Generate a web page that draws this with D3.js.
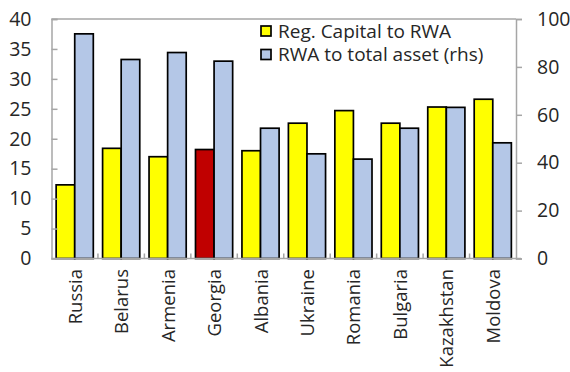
<!DOCTYPE html>
<html>
<head>
<meta charset="utf-8">
<script src="https://cdn.jsdelivr.net/npm/d3@7"></script>
<style>
  html, body { margin: 0; padding: 0; background: #fff; }
  svg { display: block; font-family: "Open Sans", sans-serif; }
</style>
</head>
<body>
<svg id="chart" width="570" height="372"></svg>
<script>
// Bank capital metrics by country
const countries = ["Russia", "Belarus", "Armenia", "Georgia", "Albania",
                   "Ukraine", "Romania", "Bulgaria", "Kazakhstan", "Moldova"];
const capitalToRWA = [12.3, 18.4, 17.0, 18.2, 18.0, 22.6, 24.7, 22.6, 25.3, 26.6];
const rwaToAssets = [93.8, 83.1, 86.0, 82.4, 54.4, 43.7, 41.5, 54.4, 63.1, 48.3];
const leftTicks = [0, 5, 10, 15, 20, 25, 30, 35, 40];
const rightTicks = [0, 20, 40, 60, 80, 100];
const seriesNames = ["Reg. Capital to RWA", "RWA to total asset (rhs)"];
const highlight = "Georgia";

const svg = d3.select("#chart");
const plotLeft = 51.5, plotRight = 516, plotTop = 19, plotBottom = 258.5;
const axisColor = "#a6a6a6", textColor = "#262626";
const tickFont = "19.5px", labelFont = "18.5px", legendFont = "19px";

const x = d3.scaleBand().domain(countries).range([plotLeft, plotRight])
  .paddingInner(0.2).paddingOuter(0.1);
const xs = d3.scaleBand().domain([0, 1]).range([0, x.bandwidth()]);
const yL = d3.scaleLinear().domain([0, 40]).range([plotBottom, plotTop]);
const yR = d3.scaleLinear().domain([0, 100]).range([plotBottom, plotTop]);

// plot frame top edge
svg.append("line").attr("x1", plotLeft).attr("x2", plotRight)
  .attr("y1", plotTop).attr("y2", plotTop)
  .attr("stroke", axisColor).attr("stroke-width", 1.5);

const rows = countries.map((c, i) => ({ c, cap: capitalToRWA[i], rwa: rwaToAssets[i] }));

const g = svg.append("g");
g.selectAll("rect.cap").data(rows).join("rect").attr("class", "cap")
  .attr("x", d => x(d.c) + xs(0))
  .attr("width", xs.bandwidth())
  .attr("y", d => yL(d.cap))
  .attr("height", d => yL(0) - yL(d.cap))
  .attr("fill", d => d.c === highlight ? "#c00000" : "#ffff00")
  .attr("stroke", "#000").attr("stroke-width", 1.7);

g.selectAll("rect.rwa").data(rows).join("rect").attr("class", "rwa")
  .attr("x", d => x(d.c) + xs(1))
  .attr("width", xs.bandwidth())
  .attr("y", d => yR(d.rwa))
  .attr("height", d => yR(0) - yR(d.rwa))
  .attr("fill", "#b4c7e7")
  .attr("stroke", "#000").attr("stroke-width", 1.7);

// left axis (ticks inside)
const ax = svg.append("g").attr("transform", `translate(${plotLeft},0)`)
  .call(d3.axisLeft(yL).tickValues(leftTicks).tickSize(-6).tickPadding(20));
// right axis (ticks outside)
const ar = svg.append("g").attr("transform", `translate(${plotRight},0)`)
  .call(d3.axisRight(yR).tickValues(rightTicks).tickSize(6).tickPadding(15));

// bottom axis with category separators
const boundaries = countries.slice(1).map(c => x(c) - x.step() * x.paddingInner() / 2);
const ab = svg.append("g").attr("transform", `translate(0,${plotBottom})`)
  .call(d3.axisBottom(x).tickSize(0).tickPadding(0));
ab.selectAll(".tick text").remove();
ab.selectAll("line.sep").data(boundaries).join("line").attr("class", "sep")
  .attr("x1", d => d).attr("x2", d => d).attr("y1", 0).attr("y2", -5)
  .attr("stroke", axisColor).attr("stroke-width", 1.5);

[ax, ar, ab].forEach(a => {
  a.select(".domain").attr("stroke", axisColor).attr("stroke-width", 1.5);
  a.selectAll(".tick line").attr("stroke", axisColor).attr("stroke-width", 1.5);
  a.selectAll(".tick text").attr("fill", textColor).style("font-size", tickFont)
    .style("font-family", "'Open Sans', sans-serif");
});
ab.select(".domain").attr("d", `M${plotLeft},0H${plotRight + 5}`);

// rotated category labels
svg.append("g").selectAll("text").data(countries).join("text")
  .attr("transform", d => `translate(${x(d) + x.bandwidth() / 2 + 7},269) rotate(-90)`)
  .attr("text-anchor", "end")
  .attr("fill", textColor)
  .style("font-size", labelFont)
  .text(d => d);

// legend
const legend = svg.append("g").attr("transform", "translate(261,25)");
const legendFill = ["#ffff00", "#b4c7e7"];
seriesNames.forEach((name, i) => {
  const row = legend.append("g").attr("transform", `translate(0,${i * 23.5})`);
  row.append("rect").attr("width", 10).attr("height", 10).attr("y", 1)
    .attr("fill", legendFill[i]).attr("stroke", "#000").attr("stroke-width", 1.7);
  row.append("text").attr("x", 17).attr("y", 12.5)
    .attr("fill", textColor).style("font-size", legendFont).text(name);
});
</script>
</body>
</html>
